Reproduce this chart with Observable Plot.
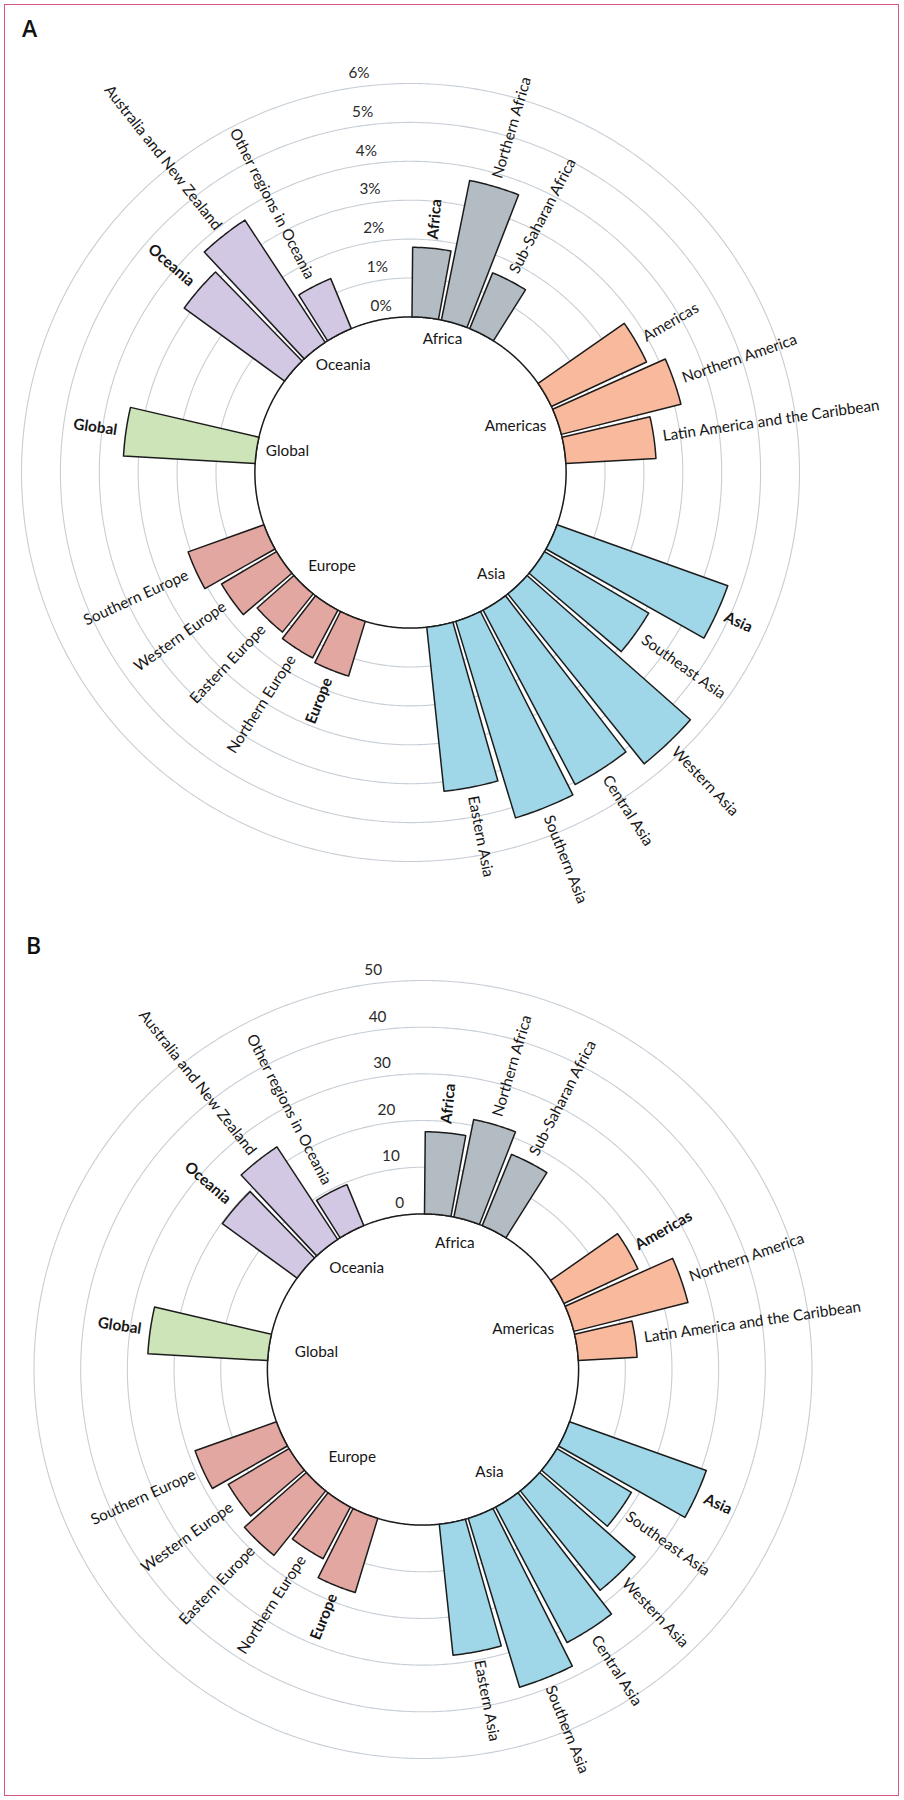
<!DOCTYPE html>
<html><head><meta charset="utf-8">
<script src="https://cdn.jsdelivr.net/npm/d3@7"></script>
<script src="https://cdn.jsdelivr.net/npm/@observablehq/plot@0.6"></script>
<style>
body{margin:0;background:#fff;}
#fig{position:relative;width:904px;height:1800px;font-family:Lato,sans-serif;overflow:hidden;}
#frame{position:absolute;left:4px;top:4px;width:895px;height:1792px;border:1.6px solid #d6577f;box-sizing:border-box;}
.letter{position:absolute;font:600 23px/23px "Open Sans",sans-serif;color:#111;}
.panel{position:absolute;left:0;width:904px;}
.panel svg{overflow:visible;}
</style></head><body>
<div id="fig">
<div id="frame"></div>
<div id="pa" class="panel" style="top:0px"></div>
<div id="pb" class="panel" style="top:900px"></div>
<div class="letter" style="left:22px;top:17px">A</div>
<div class="letter" style="left:26px;top:934px">B</div>
</div>
<script>
// ---------- data ----------
const groups = ["Africa", "Americas", "Asia", "Europe", "Global", "Oceania"];
const groupColors = ["#b3bcc3", "#f9b99c", "#9fd7e8", "#e2a7a1", "#cde3b8", "#d3c8e3"];
const regions = [
  "Africa", "Northern Africa", "Sub-Saharan Africa",
  "Americas", "Northern America", "Latin America and the Caribbean",
  "Asia", "Southeast Asia", "Western Asia", "Central Asia", "Southern Asia", "Eastern Asia",
  "Europe", "Northern Europe", "Eastern Europe", "Western Europe", "Southern Europe",
  "Global",
  "Oceania", "Australia and New Zealand", "Other regions in Oceania"
];
const regionGroups = [
  "Africa", "Africa", "Africa",
  "Americas", "Americas", "Americas",
  "Asia", "Asia", "Asia", "Asia", "Asia", "Asia",
  "Europe", "Europe", "Europe", "Europe", "Europe",
  "Global",
  "Oceania", "Oceania", "Oceania"
];
// Panel A: percentage
const valuesA = [
  1.79, 3.66, 1.55,
  2.70, 3.17, 2.32,
  4.66, 3.11, 5.60, 5.07, 5.28, 4.24,
  1.47, 1.39, 1.26, 1.64, 2.07,
  3.39,
  3.19, 3.76, 1.39
];
// Panel B: count
const valuesB = [
  17.6, 21.3, 16.5,
  17.5, 25.2, 12.6,
  31.1, 18.5, 27.3, 32.8, 37.8, 28.2,
  16.6, 12.5, 17.7, 15.1, 18.5,
  25.7,
  19.8, 23.7, 9.5
];
const boldA = ["Africa", "Asia", "Europe", "Global", "Oceania"];
const boldB = ["Africa", "Americas", "Asia", "Europe", "Global", "Oceania"];
const ticksA = [0, 1, 2, 3, 4, 5, 6];
const tickLabelsA = ["0%", "1%", "2%", "3%", "4%", "5%", "6%"];
const ticksB = [0, 10, 20, 30, 40, 50];
const tickLabelsB = ["0", "10", "20", "30", "40", "50"];

// ---------- layout ----------
const GAP_SLOTS = 2;
const slotOf = [];
{
  let s = 0;
  groups.forEach(g => {
    regions.forEach((r, i) => { if (regionGroups[i] === g) slotOf[i] = s++; });
    s += GAP_SLOTS;
  });
}
const NSLOTS = regions.length + groups.length * GAP_SLOTS;
const SW = 360 / NSLOTS;

function drawPanel(el, cfg) {
  const {values, bold, ticks, tickLabels, yMax, cx, cy, groupLabelPos} = cfg;
  const W = 904, H = 900, R = 389, RHO = 39;
  const yMin = -yMax * 2 / 3;
  const rho = v => (v - yMin) / (yMax - yMin) * RHO;
  const pxRho = px => px / R * RHO;
  const lonOf = theta => 180 - theta;
  const latOf = r => 90 - r;

  const bars = regions.map((name, i) => {
    const slot = slotOf[i];
    const t1 = (slot + 0.05) * SW, t2 = (slot + 0.95) * SW;
    const lonA = lonOf(t2), lonB = lonOf(t1);
    const lat0 = latOf(rho(0)), lat1 = latOf(rho(values[i]));
    const n = 24, ring = [[lonA, lat1]];
    for (let k = 0; k <= n; k++) ring.push([lonA + (lonB - lonA) * k / n, lat0]);
    for (let k = 0; k <= n; k++) ring.push([lonB - (lonB - lonA) * k / n, lat1]);
    const theta = (slot + 0.5) * SW;
    const right = theta < 180;
    return {
      name, value: values[i],
      color: groupColors[groups.indexOf(regionGroups[i])],
      geom: {type: "Polygon", coordinates: [ring]},
      lon: lonOf(theta),
      lat: latOf(rho(values[i]) + pxRho(9)),
      rot: right ? theta - 90 : theta - 270,
      right, bold: bold.includes(name)
    };
  });

  const rings = ticks.map((t, i) => ({t, label: tickLabels[i],
    geom: d3.geoCircle().center([0, 90]).radius(rho(t)).precision(0.5)()}));
  const tickTheta = (NSLOTS - 0.5) * SW;

  const glabels = groups.map(g => ({name: g, lon: lonOf(groupLabelPos[g][0]), lat: latOf(pxRho(groupLabelPos[g][1]))}));

  const txt = "#161616";
  const FS = 15.3;
  const labelMarks = [];
  for (const right of [true, false]) for (const b of [true, false]) {
    labelMarks.push(Plot.text(bars.filter(d => d.right === right && d.bold === b), {
      x: "lon", y: "lat", text: "name", rotate: "rot",
      textAnchor: right ? "start" : "end", fontWeight: b ? 700 : 400,
      fontSize: FS, fill: txt
    }));
  }

  const plot = Plot.plot({
    width: W, height: H,
    marginLeft: cx - R, marginRight: W - cx - R, marginTop: cy - R, marginBottom: H - cy - R,
    projection: {
      type: "azimuthal-equidistant", rotate: [0, -90],
      domain: d3.geoCircle().center([0, 90]).radius(RHO).precision(0.5)(),
      clip: false
    },
    color: {type: "identity"},
    style: {background: "transparent", overflow: "visible", fontFamily: "Lato, sans-serif"},
    marks: [
      Plot.geo(rings, {geometry: "geom", fill: "none", stroke: "#c7ced5", strokeWidth: 1.1}),
      Plot.geo([0], {geometry: () => d3.geoCircle().center([0, 90]).radius(rho(0)).precision(0.5)(), fill: "white", stroke: "#1c1c1c", strokeWidth: 1.5}),
      Plot.geo(bars, {geometry: "geom", fill: "color", stroke: "#1c1c1c", strokeWidth: 1.5}),
      ...labelMarks,
      Plot.text(rings, {x: () => lonOf(tickTheta), y: d => latOf(rho(d.t)), text: "label", textAnchor: "end", dx: -4, dy: -12, fontSize: FS, fill: "#2a2a2a"}),
      Plot.text(glabels, {x: "lon", y: "lat", text: "name", fontSize: FS, fill: txt})
    ]
  });
  el.appendChild(plot);
}

drawPanel(document.getElementById("pa"), {
  values: valuesA, bold: boldA, ticks: ticksA, tickLabels: tickLabelsA, yMax: 6,
  cx: 410, cy: 472,
  groupLabelPos: {Africa: [13.5, 137], Americas: [66, 115], Asia: [141.6, 130], Europe: [220, 122], Global: [280, 125], Oceania: [328, 127]}
});
drawPanel(document.getElementById("pb"), {
  values: valuesB, bold: boldB, ticks: ticksB, tickLabels: tickLabelsB, yMax: 50,
  cx: 422.5, cy: 469,
  groupLabelPos: {Africa: [14.2, 130], Americas: [68, 108], Asia: [147, 122], Europe: [219, 112.5], Global: [279.3, 108], Oceania: [326.8, 121]}
});
</script>
</body></html>
